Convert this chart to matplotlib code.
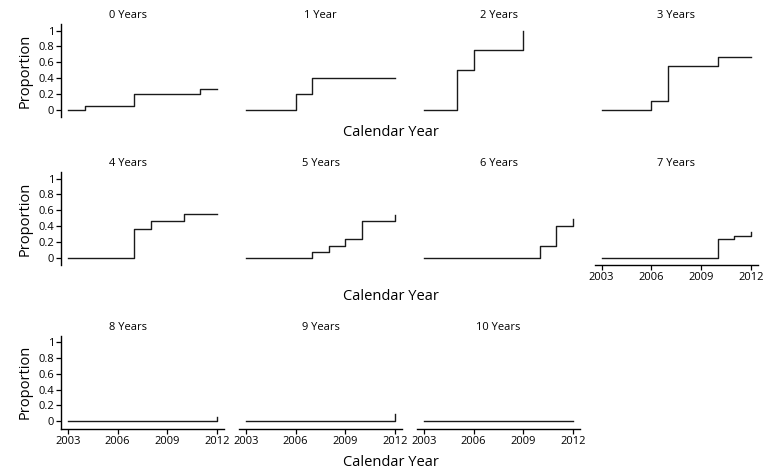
import matplotlib
matplotlib.use("Agg")
import matplotlib.pyplot as plt

plt.rcParams['font.family'] = ['Open Sans', 'DejaVu Sans']

years = [2003, 2004, 2005, 2006, 2007, 2008, 2009, 2010, 2011, 2012]
years_short = [2003, 2004, 2005, 2006, 2007, 2008, 2009]

# proportion by calendar year, one list per panel
prop_0 = [0, 0.05, 0.05, 0.05, 0.20, 0.20, 0.20, 0.20, 0.26, 0.26]
prop_1 = [0, 0, 0, 0.20, 0.40, 0.40, 0.40, 0.40, 0.40, 0.40]
prop_2 = [0, 0, 0.50, 0.75, 0.75, 0.75, 1.00]
prop_3 = [0, 0, 0, 0.11, 0.55, 0.55, 0.55, 0.66, 0.66, 0.66]
prop_4 = [0, 0, 0, 0, 0.36, 0.46, 0.46, 0.55, 0.55, 0.55]
prop_5 = [0, 0, 0, 0, 0.07, 0.15, 0.23, 0.46, 0.46, 0.54]
prop_6 = [0, 0, 0, 0, 0, 0, 0, 0.15, 0.40, 0.49]
prop_7 = [0, 0, 0, 0, 0, 0, 0, 0.23, 0.27, 0.32]
prop_8 = [0, 0, 0, 0, 0, 0, 0, 0, 0, 0.05]
prop_9 = [0, 0, 0, 0, 0, 0, 0, 0, 0, 0.085]
prop_10 = [0, 0, 0, 0, 0, 0, 0, 0, 0, 0]

titles = ["0 Years", "1 Year", "2 Years", "3 Years", "4 Years", "5 Years",
          "6 Years", "7 Years", "8 Years", "9 Years", "10 Years"]
xs = [years, years, years_short, years, years, years, years, years, years, years, years]
ys = [prop_0, prop_1, prop_2, prop_3, prop_4, prop_5, prop_6, prop_7, prop_8, prop_9, prop_10]

yticks = [0, 0.2, 0.4, 0.6, 0.8, 1]
ytick_labels = ["0", "0.2", "0.4", "0.6", "0.8", "1"]
xticks = [2003, 2006, 2009, 2012]

W, H = 764, 472
fig = plt.figure(figsize=(W / 100, H / 100), dpi=100)

col_left = [61, 239, 417, 594.7]
col_w = 163
row_top = [24, 172, 335.6]
row_h = 93

def rect(l, t, w, h):
    return [l / W, 1 - (t + h) / H, w / W, h / H]

for i in range(11):
    r = i // 4
    c = i % 4
    ax = fig.add_axes(rect(col_left[c], row_top[r], col_w, row_h))
    ax.step(xs[i], ys[i], where='post', color='#1a1a1a', lw=1)
    ax.set_xlim(2002.58, 2012.42)
    ax.set_ylim(-0.095, 1.085)
    for s in ['top', 'right']:
        ax.spines[s].set_visible(False)
    ax.tick_params(labelsize=8, length=3.5, width=0.9, pad=1.5, color='black')

    if c == 0:
        ax.set_yticks(yticks)
        ax.set_yticklabels(ytick_labels)
        ax.set_ylabel("Proportion", fontsize=10.5, labelpad=4)
        ax.spines['left'].set_linewidth(1)
        tx = 0.41
    else:
        ax.spines['left'].set_visible(False)
        ax.set_yticks([])
        tx = 0.5

    # x axis only where no panel sits below
    if r == 2 or i == 7:
        ax.set_xticks(xticks)
        ax.spines['bottom'].set_linewidth(1)
    else:
        ax.spines['bottom'].set_visible(False)
        ax.set_xticks([])

    ax.text(tx, 1.03, titles[i], transform=ax.transAxes, ha='center',
            va='bottom', fontsize=8)

for yc in [133, 297, 462]:
    fig.text(391 / W, 1 - yc / H, "Calendar Year", ha='center', va='center',
             fontsize=10.5)

plt.savefig("out.png", dpi=100)
